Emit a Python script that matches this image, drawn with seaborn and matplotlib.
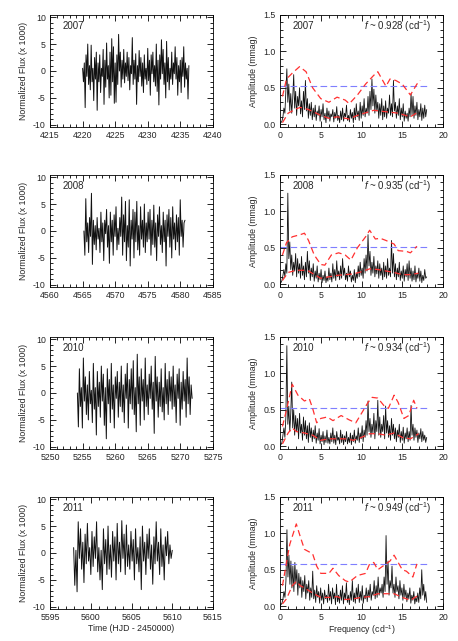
import numpy as np
import pandas as pd
import matplotlib
matplotlib.use("Agg")
import matplotlib.pyplot as plt
from matplotlib.ticker import MultipleLocator, FormatStrFormatter
import seaborn as sns

# ---- data ----
years = ["2007", "2008", "2010", "2011"]
freq_labels = ["0.928", "0.935", "0.934", "0.949"]

# time span of each light curve (HJD - 2450000) and axis limits
t_start = [4220.0, 4565.2, 5254.2, 5597.9]
t_end = [4236.3, 4580.7, 5271.8, 5610.0]
t_lims = [(4215, 4240), (4560, 4585), (5250, 5275), (5595, 5615)]

flux_2007 = [0.5, -2.0, 1.5, -6.8, 3.0, -1.0, 5.0, -2.5, 1.0, -3.5, 4.8, -2.0, 0.5, -5.5, 2.5, -1.5,
             3.5, -7.3, 1.5, -2.0, 3.0, -4.0, 0.5, -1.0, 4.0, -6.2, 2.0, -3.0, 5.2, -1.5, 1.0, -5.0,
             3.5, -4.5, 6.0, -2.0, 4.5, -6.0, 1.5, -5.8, 3.0, -2.5, 6.8, 0.0, 3.5, -3.0, 2.0, -1.5,
             4.0, -2.2, 1.5, -1.0, 3.5, -1.8, 2.5, -3.5, 1.0, -0.5, 6.2, -2.5, 2.0, -1.5, 3.2, -6.2,
             1.0, -2.0, 3.8, -1.0, 2.5, -2.8, 1.5, -4.0, 3.0, -1.5, 0.5, -2.5, 4.2, -1.8, 2.0, -4.5,
             3.0, -0.5, 3.5, -2.0, 1.0, -2.8, 5.0, -3.8, 2.0, -6.3, 3.0, -1.5, 5.8, -0.5, 4.0, -2.5,
             1.5, -5.0, 5.5, -2.0, 2.5, -3.5, 0.5, -1.5, 3.5, -2.5, 1.5, -0.5, 4.5, -1.5, 2.5, -4.5,
             1.0, -2.0, 2.0, -4.0, 2.5, -1.0, 4.5, -3.0, 1.5, -1.5, 0.5, -5.2, 1.0]
flux_2008 = [0.0, -4.5, 6.0, -2.0, 1.5, -4.0, 2.5, -1.0, 7.0, -6.2, 2.0, -2.5, 1.0, -3.5, 2.5, -1.5,
             0.5, -4.0, 3.5, -2.0, 1.5, -5.5, 2.0, -0.5, 4.0, -3.0, 1.0, -6.0, 3.5, -2.0, 2.0, -4.5,
             3.0, -1.0, 4.5, -3.5, 0.5, -2.5, 2.5, -1.0, 6.3, -4.5, 3.0, -2.0, 5.5, -5.5, 1.0, -3.0,
             5.8, -6.5, 2.0, -1.5, 4.0, -5.0, 3.5, -2.0, 5.5, -3.5, 1.0, -4.5, 4.5, -1.5, 2.0, -3.0,
             5.0, -4.0, 1.5, -2.0, 3.5, -1.5, 4.0, -4.5, 2.0, -2.5, 4.8, -3.0, 1.5, -5.5, 3.0, -1.0,
             4.5, -2.5, 1.0, -4.0, 3.5, -2.0, 2.0, -6.5, 3.0, -1.0, 4.0, -3.0, 2.5, -5.0, 4.5, -1.5,
             1.5, -3.5, 3.0, -2.0, 2.5, -4.5, 5.8, -1.0, 2.0, -3.0, 1.5, 2.0]
flux_2010 = [0.0, -6.3, 4.5, -2.5, 1.0, -6.5, 6.5, -1.5, 3.0, -4.0, 1.5, -5.0, 4.0, -2.0, 0.5, -5.5,
             5.5, -3.0, 1.0, -7.8, 4.0, -2.5, 2.0, -4.5, 5.0, -1.5, 3.5, -6.0, 1.0, -8.5, 4.5, -2.0,
             2.5, -5.5, 5.5, -3.0, 1.5, -6.5, 3.0, -1.0, 4.0, -4.5, 2.0, -2.5, 5.0, -3.5, 1.5, -5.5,
             3.5, -1.0, 5.5, -6.5, 2.5, -2.0, 4.5, -3.0, 6.0, -4.0, 1.0, -7.2, 7.2, -2.0, 3.0, -6.0,
             4.5, -1.5, 2.5, -5.0, 6.5, -2.5, 1.5, -4.0, 3.5, -1.0, 5.0, -3.0, 2.0, -7.5, 6.8, -1.5,
             3.0, -4.5, 2.0, -2.5, 4.5, -3.5, 1.0, -5.0, 5.5, -2.0, 2.5, -4.0, 4.0, -1.5, 3.0, -3.0,
             5.0, -2.5, 1.5, -5.5, 3.5, -1.0, 4.5, -6.0, 2.0, -3.0, 4.0, -1.5, 2.5, -4.5, 6.5, -2.0,
             3.0, -4.0, 1.5, -1.0]
flux_2011 = [1.0, -6.0, 0.5, -7.2, 5.8, -1.0, 4.5, -3.0, 2.0, -5.5, 3.5, -2.0, 5.5, -1.5, 1.0, -4.0,
             4.0, -2.5, 3.0, -1.0, 5.8, -3.5, 1.0, -5.0, 0.5, -6.8, 4.5, -2.0, 2.5, -4.0, 5.0, -3.0,
             1.5, -4.5, 4.0, -1.5, 3.0, -5.0, 5.5, -2.0, 2.0, -3.5, 6.0, -1.0, 3.5, -4.0, 5.2, -2.5,
             1.5, -3.0, 4.0, -1.5, 2.5, -5.0, 4.5, -2.0, 1.0, -3.5, 3.0, -6.8, 5.0, -1.5, 2.0, -4.0,
             3.5, -1.0, 4.5, -3.0, 1.5, -5.8, 3.0, -2.0, 5.8, -1.5, 2.0, -4.0, 4.5, -2.5, 1.5, -5.0,
             3.0, -0.5, 4.0, -2.0, 1.5, -1.0, 0.5]

# amplitude spectra, sampled evenly from 0 to 18 c/d
freq_max = 18.0
amp_2007 = [0.01, 0.02, 0.04, 0.10, 0.22, 0.15, 0.45, 0.76, 0.30, 0.55, 0.18, 0.42, 0.15, 0.35, 0.68, 0.22,
            0.45, 0.12, 0.38, 0.25, 0.50, 0.14, 0.32, 0.10, 0.45, 0.20, 0.60, 0.18, 0.35, 0.08, 0.28, 0.12,
            0.30, 0.06, 0.22, 0.10, 0.26, 0.05, 0.18, 0.12, 0.25, 0.04, 0.20, 0.10, 0.28, 0.06, 0.15, 0.02,
            0.22, 0.08, 0.18, 0.04, 0.14, 0.10, 0.20, 0.03, 0.16, 0.08, 0.24, 0.05, 0.12, 0.02, 0.18, 0.06,
            0.22, 0.04, 0.15, 0.10, 0.26, 0.05, 0.12, 0.03, 0.20, 0.08, 0.16, 0.02, 0.22, 0.06, 0.28, 0.10,
            0.18, 0.05, 0.30, 0.08, 0.25, 0.12, 0.35, 0.10, 0.22, 0.15, 0.38, 0.12, 0.45, 0.20, 0.62, 0.25,
            0.48, 0.15, 0.40, 0.18, 0.30, 0.08, 0.28, 0.12, 0.35, 0.06, 0.25, 0.10, 0.32, 0.08, 0.22, 0.15,
            0.40, 0.12, 0.28, 0.10, 0.60, 0.18, 0.30, 0.08, 0.25, 0.12, 0.35, 0.06, 0.22, 0.10, 0.28, 0.04,
            0.18, 0.08, 0.15, 0.04, 0.22, 0.10, 0.42, 0.12, 0.38, 0.08, 0.25, 0.12, 0.30, 0.06, 0.20, 0.10,
            0.28, 0.05, 0.22, 0.08, 0.26, 0.10, 0.20]
amp_2008 = [0.01, 0.02, 0.05, 0.12, 0.20, 0.10, 0.28, 0.15, 1.25, 0.35, 0.58, 0.20, 0.40, 0.12, 0.30, 0.18,
            0.42, 0.10, 0.35, 0.15, 0.28, 0.08, 0.38, 0.12, 0.25, 0.06, 0.30, 0.10, 0.45, 0.15, 0.32, 0.05,
            0.22, 0.10, 0.28, 0.04, 0.18, 0.08, 0.25, 0.03, 0.15, 0.06, 0.20, 0.02, 0.12, 0.05, 0.18, 0.02,
            0.10, 0.04, 0.22, 0.06, 0.15, 0.03, 0.28, 0.08, 0.20, 0.05, 0.32, 0.10, 0.18, 0.06, 0.25, 0.08,
            0.35, 0.12, 0.22, 0.06, 0.15, 0.04, 0.25, 0.10, 0.18, 0.03, 0.12, 0.05, 0.20, 0.02, 0.15, 0.08,
            0.25, 0.10, 0.30, 0.12, 0.22, 0.08, 0.35, 0.15, 0.40, 0.18, 0.68, 0.25, 0.45, 0.12, 0.30, 0.15,
            0.38, 0.10, 0.25, 0.14, 0.32, 0.08, 0.28, 0.12, 0.22, 0.06, 0.30, 0.10, 0.25, 0.08, 0.35, 0.12,
            0.22, 0.10, 0.60, 0.15, 0.42, 0.10, 0.28, 0.06, 0.22, 0.10, 0.30, 0.05, 0.18, 0.08, 0.25, 0.04,
            0.20, 0.10, 0.28, 0.05, 0.32, 0.08, 0.22, 0.04, 0.18, 0.06, 0.25, 0.03, 0.15, 0.08, 0.22, 0.04,
            0.18, 0.02, 0.12, 0.05, 0.20, 0.08, 0.10]
amp_2010 = [0.01, 0.02, 0.05, 0.15, 0.25, 0.12, 0.40, 1.38, 0.30, 0.55, 0.20, 0.45, 0.88, 0.25, 0.50, 0.15,
            0.42, 0.20, 0.38, 0.10, 0.45, 0.18, 0.30, 0.08, 0.40, 0.15, 0.35, 0.10, 0.28, 0.05, 0.32, 0.12,
            0.25, 0.06, 0.22, 0.10, 0.28, 0.04, 0.18, 0.08, 0.24, 0.03, 0.15, 0.06, 0.20, 0.02, 0.14, 0.05,
            0.22, 0.04, 0.12, 0.03, 0.18, 0.06, 0.25, 0.04, 0.15, 0.02, 0.20, 0.08, 0.12, 0.03, 0.22, 0.05,
            0.16, 0.02, 0.14, 0.06, 0.20, 0.03, 0.12, 0.05, 0.18, 0.02, 0.15, 0.06, 0.22, 0.04, 0.14, 0.08,
            0.25, 0.05, 0.18, 0.10, 0.28, 0.06, 0.22, 0.12, 0.35, 0.15, 0.62, 0.20, 0.38, 0.12, 0.30, 0.18,
            0.45, 0.10, 0.35, 0.20, 0.63, 0.15, 0.40, 0.12, 0.30, 0.20, 0.42, 0.10, 0.55, 0.18, 0.35, 0.12,
            0.28, 0.08, 0.38, 0.15, 0.30, 0.10, 0.25, 0.06, 0.22, 0.12, 0.30, 0.05, 0.20, 0.08, 0.26, 0.04,
            0.18, 0.10, 0.25, 0.06, 0.20, 0.08, 0.56, 0.15, 0.30, 0.08, 0.25, 0.12, 0.22, 0.05, 0.18, 0.10,
            0.24, 0.06, 0.20, 0.08, 0.15, 0.05, 0.12]
amp_2011 = [0.01, 0.02, 0.04, 0.10, 0.20, 0.12, 0.35, 1.05, 0.40, 0.70, 0.30, 0.62, 0.25, 0.55, 0.20, 0.60,
            0.30, 0.50, 0.15, 0.45, 0.25, 0.40, 0.12, 0.35, 0.20, 0.42, 0.10, 0.30, 0.18, 0.35, 0.08, 0.25,
            0.12, 0.48, 0.10, 0.22, 0.05, 0.28, 0.12, 0.20, 0.04, 0.25, 0.08, 0.18, 0.03, 0.22, 0.10, 0.15,
            0.05, 0.30, 0.08, 0.20, 0.03, 0.25, 0.10, 0.18, 0.02, 0.30, 0.06, 0.15, 0.04, 0.22, 0.08, 0.28,
            0.03, 0.18, 0.10, 0.32, 0.05, 0.15, 0.02, 0.20, 0.08, 0.35, 0.06, 0.18, 0.04, 0.25, 0.10, 0.30,
            0.05, 0.20, 0.08, 0.28, 0.04, 0.15, 0.10, 0.25, 0.06, 0.22, 0.12, 0.30, 0.08, 0.20, 0.15, 0.35,
            0.10, 0.28, 0.12, 0.40, 0.15, 0.25, 0.18, 0.30, 0.12, 0.40, 0.20, 0.97, 0.30, 0.62, 0.15, 0.35,
            0.25, 0.55, 0.18, 0.30, 0.12, 0.40, 0.20, 0.28, 0.10, 0.35, 0.15, 0.25, 0.08, 0.30, 0.12, 0.22,
            0.06, 0.18, 0.10, 0.25, 0.04, 0.15, 0.08, 0.20, 0.03, 0.12, 0.06, 0.18, 0.05, 0.25, 0.10, 0.50,
            0.15, 0.30, 0.08, 0.20, 0.05]

# red dashed envelopes (upper and lower), as (freq, amp) pairs
upper_f_2007 = [0.3, 0.8, 1.5, 2.4, 3.2, 4.0, 5.0, 6.0, 7.0, 8.0, 8.5, 9.5, 10.5, 11.5, 12.0, 13.0, 13.5, 14.2, 15.0, 16.0, 16.8, 17.2]
upper_a_2007 = [0.38, 0.62, 0.70, 0.79, 0.72, 0.50, 0.35, 0.30, 0.37, 0.33, 0.28, 0.40, 0.55, 0.67, 0.72, 0.52, 0.62, 0.60, 0.55, 0.40, 0.55, 0.60]
lower_f_2007 = [0.3, 1.0, 2.0, 2.5, 3.5, 5.0, 6.0, 7.0, 8.5, 9.5, 11.5, 13.0, 14.5, 16.0, 17.0]
lower_a_2007 = [0.02, 0.15, 0.21, 0.23, 0.20, 0.12, 0.08, 0.10, 0.07, 0.12, 0.19, 0.17, 0.15, 0.10, 0.17]

upper_f_2008 = [0.3, 0.8, 1.5, 2.5, 3.0, 3.5, 4.2, 5.0, 5.5, 6.3, 7.2, 8.0, 8.7, 9.5, 10.5, 11.0, 11.7, 12.3, 13.0, 14.0, 14.5, 15.5, 16.0, 16.8]
upper_a_2008 = [0.40, 0.57, 0.65, 0.68, 0.70, 0.60, 0.40, 0.27, 0.26, 0.40, 0.43, 0.40, 0.33, 0.50, 0.65, 0.74, 0.62, 0.63, 0.60, 0.55, 0.46, 0.45, 0.43, 0.52]
lower_f_2008 = [0.3, 1.0, 2.0, 3.0, 3.5, 5.0, 6.0, 7.0, 8.0, 9.0, 10.0, 11.0, 12.0, 13.0, 14.0, 15.0, 16.0, 17.0]
lower_a_2008 = [0.05, 0.16, 0.19, 0.19, 0.18, 0.08, 0.10, 0.12, 0.13, 0.14, 0.17, 0.21, 0.20, 0.18, 0.16, 0.13, 0.13, 0.15]

upper_f_2010 = [0.3, 0.8, 1.5, 2.2, 3.0, 3.6, 4.0, 4.5, 5.0, 5.8, 6.5, 7.5, 8.5, 9.3, 10.0, 10.8, 11.3, 12.0, 12.8, 13.3, 14.0, 14.5, 15.2, 15.8, 16.4, 16.8]
upper_a_2010 = [0.27, 0.50, 0.85, 0.70, 0.62, 0.65, 0.52, 0.32, 0.38, 0.40, 0.35, 0.42, 0.36, 0.32, 0.45, 0.60, 0.67, 0.66, 0.55, 0.52, 0.70, 0.60, 0.38, 0.42, 0.63, 0.52]
lower_f_2010 = [0.3, 1.0, 1.5, 2.0, 3.0, 4.0, 5.0, 6.0, 7.0, 8.0, 9.0, 10.0, 11.0, 12.0, 13.0, 14.0, 15.0, 16.0, 17.0]
lower_a_2010 = [0.03, 0.18, 0.25, 0.20, 0.18, 0.15, 0.08, 0.10, 0.10, 0.10, 0.08, 0.12, 0.17, 0.17, 0.15, 0.18, 0.12, 0.10, 0.17]

upper_f_2011 = [0.3, 0.8, 1.2, 2.0, 2.5, 3.0, 4.0, 4.5, 5.0, 6.0, 6.5, 7.2, 8.0, 8.5, 9.5, 10.5, 11.0, 11.5, 12.0, 13.0, 13.5, 14.0, 14.5, 15.0, 15.5, 16.3, 16.8]
upper_a_2011 = [0.28, 0.60, 0.85, 1.13, 0.95, 0.78, 0.72, 0.55, 0.45, 0.45, 0.52, 0.42, 0.35, 0.33, 0.42, 0.45, 0.58, 0.60, 0.50, 0.58, 0.62, 0.70, 0.60, 0.50, 0.48, 0.40, 0.58]
lower_f_2011 = [0.3, 0.8, 1.5, 2.0, 2.5, 3.0, 4.0, 5.0, 6.0, 7.0, 8.0, 9.0, 10.0, 11.0, 12.0, 13.0, 14.0, 15.0, 16.0, 17.0]
lower_a_2011 = [0.03, 0.10, 0.28, 0.34, 0.28, 0.25, 0.18, 0.12, 0.12, 0.13, 0.09, 0.10, 0.12, 0.13, 0.17, 0.17, 0.17, 0.12, 0.08, 0.15]

# significance level (blue dashed line)
sig_level = [0.52, 0.51, 0.52, 0.58]

fluxes = [flux_2007, flux_2008, flux_2010, flux_2011]
amps = [amp_2007, amp_2008, amp_2010, amp_2011]
uppers = [(upper_f_2007, upper_a_2007), (upper_f_2008, upper_a_2008),
          (upper_f_2010, upper_a_2010), (upper_f_2011, upper_a_2011)]
lowers = [(lower_f_2007, lower_a_2007), (lower_f_2008, lower_a_2008),
          (lower_f_2010, lower_a_2010), (lower_f_2011, lower_a_2011)]

# ---- style ----
sns.set_style("ticks")
plt.rcParams['font.family'] = ['Liberation Sans', 'DejaVu Sans']
plt.rcParams['mathtext.fontset'] = 'custom'
plt.rcParams['mathtext.rm'] = 'Liberation Sans'
plt.rcParams['mathtext.it'] = 'Liberation Sans:italic'
plt.rcParams['axes.unicode_minus'] = False
FS = 6.3     # ticks / axis labels
FS_TXT = 7   # year and frequency annotations

fig = plt.figure(figsize=(4.58, 6.41), dpi=100)

W, H = 458.0, 641.0
row_tops = [15, 175, 337, 497]
ax_h = 112
ax_w = 163


def style_axes(ax):
    ax.tick_params(which='both', direction='in', top=True, right=True,
                   labelsize=FS, width=0.6, color='black', pad=3)
    ax.tick_params(which='major', length=4)
    ax.tick_params(which='minor', length=2)
    for s in ax.spines.values():
        s.set_linewidth(0.6)
        s.set_color('black')


for i, yr in enumerate(years):
    bottom = 1 - (row_tops[i] + ax_h) / H
    # light curve
    axl = fig.add_axes([50 / W, bottom, ax_w / W, ax_h / H])
    fl = fluxes[i]
    lc = pd.DataFrame({'t': np.linspace(t_start[i], t_end[i], len(fl)), 'flux': fl})
    sns.lineplot(data=lc, x='t', y='flux', ax=axl, color='#111111', lw=0.7,
                 estimator=None, sort=False)
    axl.set_xlim(*t_lims[i])
    axl.set_ylim(-10.4, 10.4)
    axl.xaxis.set_major_locator(MultipleLocator(5))
    axl.xaxis.set_minor_locator(MultipleLocator(1))
    axl.yaxis.set_major_locator(MultipleLocator(5))
    axl.yaxis.set_minor_locator(MultipleLocator(1))
    axl.set_ylabel('Normalized Flux (x 1000)', fontsize=FS, labelpad=4)
    axl.set_xlabel('Time (HJD - 2450000)' if i == 3 else '', fontsize=FS, labelpad=1)
    axl.text(0.08, 0.9, yr, transform=axl.transAxes, fontsize=FS_TXT, va='center')
    style_axes(axl)

    # amplitude spectrum
    axr = fig.add_axes([280 / W, bottom, ax_w / W, ax_h / H])
    am = amps[i]
    sp = pd.DataFrame({'f': np.linspace(0, freq_max, len(am)), 'amp': am})
    sns.lineplot(data=sp, x='f', y='amp', ax=axr, color='#111111', lw=0.6,
                 estimator=None, sort=False)
    axr.plot([0, freq_max], [sig_level[i]] * 2, color='#7f7fff', lw=0.8, dashes=(6, 3))
    axr.plot(uppers[i][0], uppers[i][1], color='#ff3030', lw=0.9, dashes=(5, 3))
    axr.plot(lowers[i][0], lowers[i][1], color='#ff3030', lw=0.9, dashes=(5, 3))
    axr.set_xlim(0, 20)
    axr.set_ylim(-0.04, 1.5)
    axr.xaxis.set_major_locator(MultipleLocator(5))
    axr.xaxis.set_minor_locator(MultipleLocator(1))
    axr.yaxis.set_major_locator(MultipleLocator(0.5))
    axr.yaxis.set_minor_locator(MultipleLocator(0.1))
    axr.yaxis.set_major_formatter(FormatStrFormatter('%.1f'))
    axr.set_ylabel('Amplitude (mmag)', fontsize=FS, labelpad=4)
    axr.set_xlabel('Frequency (cd$^{-1}$)' if i == 3 else '', fontsize=FS, labelpad=1)
    axr.text(0.08, 0.9, yr, transform=axr.transAxes, fontsize=FS_TXT, va='center')
    axr.text(0.93, 0.9, '$f$ ~ ' + freq_labels[i] + ' (cd$^{-1}$)', transform=axr.transAxes,
             fontsize=FS_TXT, va='center', ha='right')
    style_axes(axr)

fig.savefig('out.png', dpi=100)
